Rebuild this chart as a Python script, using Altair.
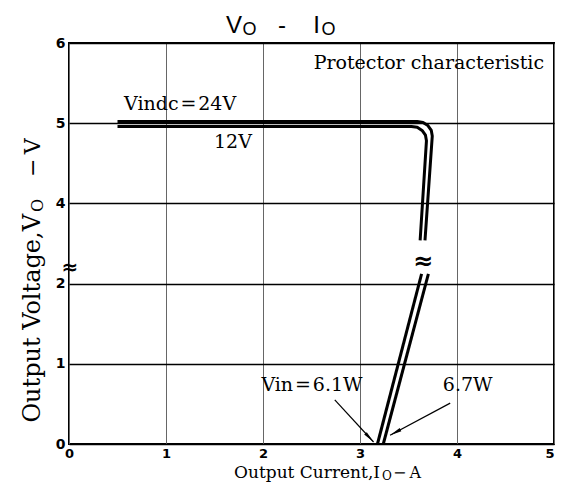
import altair as alt
import pandas as pd

# ---- curve data (Output current I [A], Output voltage V [V]) ----
# outer line (Vindc = 24V on top, Vin = 6.7W at the foot)
outer_upper_I = [0.50, 3.59, 3.65, 3.70, 3.735, 3.745, 3.67]
outer_upper_V = [5.02, 5.02, 5.01, 4.97, 4.91, 4.84, 3.54]
outer_lower_I = [3.705, 3.24]
outer_lower_V = [2.12, 0.00]
# inner line (12V on top, Vin = 6.1W at the foot)
inner_upper_I = [0.50, 3.53, 3.59, 3.64, 3.675, 3.685, 3.62]
inner_upper_V = [4.96, 4.96, 4.95, 4.91, 4.85, 4.78, 3.54]
inner_lower_I = [3.635, 3.18]
inner_lower_V = [2.12, 0.00]

# ---- annotation text (I, V-axis position, label) ----
ann_text = ["Vindc\u200a=\u200a24V", "12V", "Protector characteristic",
            "Vin\u200a=\u200a6.1W", "6.7W"]
ann_I = [1.145, 1.69, 3.71, 2.505, 4.11]
ann_P = [4.24, 3.77, 4.75, 0.73, 0.73]

# break marks
brk_I = [3.65, 0.01]
brk_P = [2.27, 2.2]
brk_size = [24, 20]

# arrows (start -> end) and head angles
arr_I = [2.74, 3.93]
arr_P = [0.55, 0.51]
arr_I2 = [3.14, 3.31]
arr_P2 = [0.025, 0.11]
arr_angle = [137, 242]

x_ticks = [0, 1, 2, 3, 4, 5]
y_pos_ticks = [0, 1, 2, 3, 4, 5]   # displayed as 0,1,2,4,5,6 (axis break)

rows = []
for name, I, V in [("outer_u", outer_upper_I, outer_upper_V),
                   ("outer_l", outer_lower_I, outer_lower_V),
                   ("inner_u", inner_upper_I, inner_upper_V),
                   ("inner_l", inner_lower_I, inner_lower_V)]:
    for k, (i, v) in enumerate(zip(I, V)):
        rows.append({"key": name, "ord": k, "I": i, "V": v})
curves = pd.DataFrame(rows)

xs = alt.Scale(domain=[0, 5], nice=False)
ys = alt.Scale(domain=[0, 5], nice=False)

x_axis = alt.Axis(
    values=x_ticks, grid=True, gridColor="#666666", gridWidth=1,
    domain=False, ticks=False, title=None, labelFlush=False,
    labelAlign={"condition": {"test": "datum.value >= 5", "value": "right"},
                "value": "center"},
    labelFont="DejaVu Sans", labelFontWeight="bold", labelFontSize=13,
    labelColor="black", labelPadding=3)
y_axis = alt.Axis(
    values=y_pos_ticks, grid=True, gridColor="black", gridWidth=1.3,
    domain=False, ticks=False, title=None, labelFlush=False,
    labelExpr="datum.value >= 3 ? datum.value + 1 : datum.value",
    labelFont="DejaVu Sans", labelFontWeight="bold", labelFontSize=14,
    labelColor="black", labelPadding=4)


def X(f):
    return alt.X(f, type="quantitative", scale=xs, axis=x_axis)


def Y(f):
    return alt.Y(f, type="quantitative", scale=ys, axis=y_axis)


SERIF = "DejaVu Serif"

base_lines = alt.Chart(curves).transform_calculate(
    P="datum.V > 2.5 ? datum.V - 1 : datum.V"
).mark_line(color="black", strokeWidth=3, strokeJoin="round").encode(
    x=X("I"), y=Y("P"), detail="key:N", order="ord:Q",
)

ann_df = pd.DataFrame({"I": ann_I, "P": ann_P, "t": ann_text})
ann = alt.Chart(ann_df).mark_text(font=SERIF, fontSize=19, color="black").encode(
    x=X("I"), y=Y("P"), text="t:N",
)

brk_df = pd.DataFrame({"I": brk_I, "P": brk_P, "s": brk_size, "t": ["≈", "≈"]})
brk = alt.Chart(brk_df).mark_text(font="DejaVu Sans", fontWeight="bold",
                                  color="black").encode(
    x=X("I"), y=Y("P"), text="t:N",
    size=alt.Size("s:Q", scale=None, legend=None),
)

arr_df = pd.DataFrame({"I": arr_I, "P": arr_P, "I2": arr_I2, "P2": arr_P2, "a": arr_angle})
shafts = alt.Chart(arr_df).mark_rule(color="black", strokeWidth=1.2).encode(
    x=X("I"), y=Y("P"), x2="I2:Q", y2="P2:Q",
)
heads = alt.Chart(arr_df).mark_point(
    shape="M0,0L0.3,2L-0.3,2Z", filled=True, color="black", size=140, opacity=1
).encode(
    x=X("I2"), y=Y("P2"),
    angle=alt.Angle("a:Q", scale=None),
)


# ---- titles (with subscript O) ----
def txt(s, x, y, size, font=SERIF, align="center", angle=0, baseline="alphabetic"):
    return alt.Chart(pd.DataFrame({"t": [s]})).mark_text(
        font=font, fontSize=size, color="black", align=align, angle=angle,
        baseline=baseline
    ).encode(x=alt.value(x), y=alt.value(y), text="t:N")


SANS = "Liberation Sans"
title_parts = [
    txt("V", 165, -10, 24, SANS),
    txt("O", 180.5, -8, 18, SANS),
    txt("-", 213, -10, 24, SANS),
    txt("I", 247.5, -10, 24, SANS),
    txt("O", 259.5, -8, 18, SANS),
]
xtitle = [
    txt("Output Current,I", 311, 435, 17, align="right"),
    txt("O", 313, 437, 12, align="left"),
    txt("−\u2009A", 324, 435, 16, align="left"),
]
ytitle = [
    txt("Output Voltage,V", -36, 171, 24, align="right", angle=270, baseline="middle"),
    txt("O", -31, 169, 16, align="left", angle=270, baseline="middle"),
    txt("−\u2009V", -36, 134, 22, align="left", angle=270, baseline="middle"),
]

chart = alt.layer(base_lines, ann, brk, shafts, heads,
                  *title_parts, *xtitle, *ytitle).properties(
    width=485, height=401,
    autosize=alt.AutoSizeParams(type="none"),
    padding={"left": 61, "top": 35, "right": 1, "bottom": 39},
).configure_view(stroke="black", strokeWidth=2)

chart.save("out.html", embed_options={"renderer": "svg", "actions": False})
